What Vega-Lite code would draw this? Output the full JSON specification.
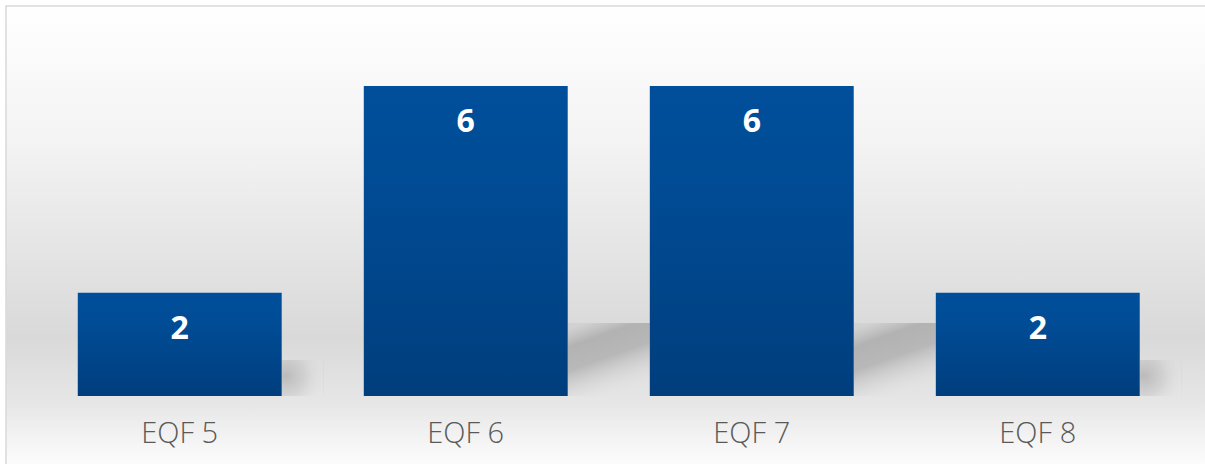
{
  "$schema": "https://vega.github.io/schema/vega-lite/v6.json",
  "width": 1200,
  "height": 460,
  "autosize": {"type": "none"},
  "padding": {"left": 6, "top": 6, "right": 0, "bottom": 0},
  "background": "#ffffff",
  "config": {
    "view": {
      "stroke": "#d9d9d9",
      "strokeWidth": 1.5,
      "fill": {
        "gradient": "linear",
        "x1": 0, "y1": 0, "x2": 0, "y2": 1,
        "stops": [
          {"offset": 0, "color": "#ffffff"},
          {"offset": 0.3, "color": "#f3f3f3"},
          {"offset": 0.72, "color": "#d9d9d9"},
          {"offset": 0.86, "color": "#e6e6e6"},
          {"offset": 1, "color": "#fdfdfd"}
        ]
      }
    }
  },
  "data": {
    "values": [
      {"level": "EQF 5", "count": 2},
      {"level": "EQF 6", "count": 6},
      {"level": "EQF 7", "count": 6},
      {"level": "EQF 8", "count": 2}
    ]
  },
  "encoding": {
    "x": {
      "field": "level",
      "type": "nominal",
      "sort": ["EQF 5", "EQF 6", "EQF 7", "EQF 8"],
      "scale": {"paddingInner": 0.287, "paddingOuter": 0.2413, "align": 0.52},
      "axis": {
        "title": null,
        "domain": false,
        "ticks": false,
        "grid": false,
        "labelAngle": 0,
        "labelFontSize": 29,
        "labelFont": "Open Sans",
        "labelFontWeight": 300,
        "labelColor": "#595959",
        "labelPadding": 0,
        "offset": -47
      }
    }
  },
  "layer": [
    {
      "encoding": {
        "y": {
          "field": "count",
          "type": "quantitative",
          "scale": {"domain": [-9.46, 40.27], "nice": false, "zero": false},
          "axis": null
        },
        "y2": {"datum": -1.89}
      },
      "layer": [
        {
          "transform": [{"filter": "datum.count > 4"}],
          "mark": {
            "type": "bar",
            "width": 82,
            "xOffset": 143,
            "color": {
              "gradient": "linear",
              "x1": 0.2, "y1": 0, "x2": 0.6, "y2": 1,
              "stops": [
                {"offset": 0, "color": "rgba(175,175,175,0.2)"},
                {"offset": 0.22, "color": "rgba(165,165,165,0.75)"},
                {"offset": 0.5, "color": "rgba(168,168,168,0.7)"},
                {"offset": 1, "color": "rgba(230,230,230,0)"}
              ]
            }
          }
        },
        {
          "transform": [{"filter": "datum.count < 4"}],
          "mark": {
            "type": "bar",
            "width": 42,
            "xOffset": 123,
            "color": {
              "gradient": "radial",
              "x1": 0.1, "y1": 0.45, "r1": 0,
              "x2": 0.1, "y2": 0.45, "r2": 0.9,
              "stops": [
                {"offset": 0, "color": "rgba(170,170,170,0.7)"},
                {"offset": 0.5, "color": "rgba(185,185,185,0.4)"},
                {"offset": 1, "color": "rgba(220,220,220,0)"}
              ]
            }
          }
        }
      ]
    },
    {
      "encoding": {
        "y": {
          "field": "count",
          "type": "quantitative",
          "scale": {"domain": [-1.355, 7.548], "nice": false, "zero": false},
          "axis": null
        }
      },
      "layer": [
        {
          "mark": {
            "type": "bar",
            "color": {
              "gradient": "linear",
              "x1": 0, "y1": 0, "x2": 0, "y2": 1,
              "stops": [
                {"offset": 0, "color": "#004f9b"},
                {"offset": 0.35, "color": "#004b94"},
                {"offset": 1, "color": "#003e7d"}
              ]
            }
          },
          "encoding": {"y2": {"datum": 0}}
        },
        {
          "mark": {
            "type": "text",
            "color": "#ffffff",
            "font": "Open Sans",
            "fontWeight": "bold",
            "fontSize": 32,
            "baseline": "middle",
            "dy": 36
          },
          "encoding": {"text": {"field": "count", "type": "quantitative"}}
        }
      ]
    }
  ],
  "resolve": {"scale": {"y": "independent"}}
}
